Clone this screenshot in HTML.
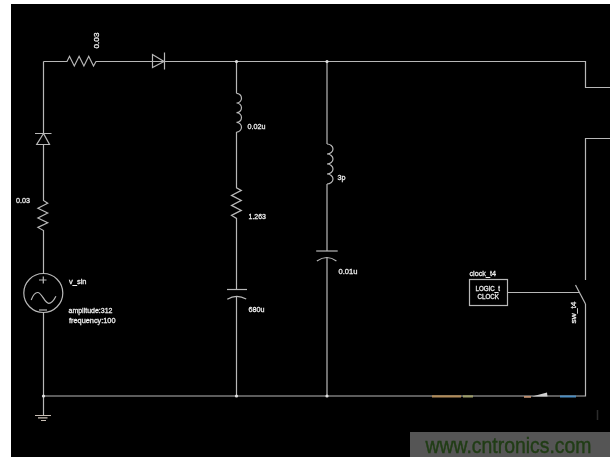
<!DOCTYPE html>
<html><head><meta charset="utf-8">
<style>
html,body{margin:0;padding:0;background:#fff;width:610px;height:462px;overflow:hidden;}
svg{position:absolute;left:0;top:0;will-change:transform;}
text{font-family:"Liberation Sans",sans-serif;fill:#ececec;}
</style></head>
<body>
<svg width="610" height="462" viewBox="0 0 610 462">
<rect x="0" y="0" width="610" height="462" fill="#fff"/>
<rect x="11" y="4" width="599" height="453" fill="#000"/>
<g stroke="#b8b8b8" stroke-width="1.2" fill="none">
<!-- top wire -->
<path d="M43.5 61.5 H67 L69.5 56.3 L74.3 66 L79.1 56.3 L83.9 66 L88.7 56.3 L93.5 66 L96 61.5 H585.5 V87.5 H610"/>
<!-- top diode -->
<path d="M152.5 54.5 V67.5 L164 61.5 Z M164.5 52.5 V69.5"/>
<!-- left vertical -->
<path d="M43.5 61.5 V133.5 M43.5 144.5 V200.5 L47.7 203.2 L37.9 208.2 L47.7 213 L37.9 218 L47.7 222.7 L37.9 227.4 L43.5 230.5 V273.5"/>
<path d="M43.5 312.5 V415.5"/>
<!-- left diode -->
<path d="M35 133.5 H51.5 M43.5 133.5 L36.7 144.5 H49.5 Z"/>
<!-- source -->
<circle cx="43.3" cy="293" r="19.5"/>
<path d="M39 280 H46.5 M43.3 276.5 V283.5"/>
<path d="M39 310 H47"/>
<path d="M31.2 300 C33 295 35 292.5 37.7 292.5 C42 292.5 44.5 303.3 48.8 303.3 C51.5 303.3 54 300 55.9 296.2"/>
<!-- ground -->
<path d="M35 415.5 H51 M38 417.8 H47.5 M41 420.5 H46" stroke="#c8beb4"/>
<!-- bottom wire -->
<path d="M43.5 396 H585.5 V304"/>
<path d="M585.5 280 V138.5 H610"/>
<!-- middle column -->
<path d="M236.5 61.5 V93.3"/>
<path d="M236.5 93.3 a5 4.85 0 0 1 0 9.7 a5 4.85 0 0 1 0 9.7 a5 4.85 0 0 1 0 9.7 a5 4.85 0 0 1 0 9.7"/>
<path d="M236.5 132 V187.8 L241.3 190.4 L231.5 195.4 L241.3 200.4 L231.5 205.4 L241.3 210.4 L231.5 215.4 L236.5 218.4 V289.5 M236.5 296.5 V396"/>
<path d="M227 289.5 H247"/>
<path d="M227.3 299.2 Q236.5 293.5 246.2 299"/>
<!-- right column -->
<path d="M327 61.5 V144"/>
<path d="M327 144 a6 5 0 0 1 0 10 a6 5 0 0 1 0 10 a6 5 0 0 1 0 10 a6 5 0 0 1 0 10"/>
<path d="M327 184 V251 M327 257.5 V396"/>
<path d="M316.2 251 H337.7"/>
<path d="M316.9 261 Q327 254 336.4 261"/>
<!-- switch -->
<path d="M575.5 285 L585.5 304"/>
<path d="M508 292.5 H579"/>
<!-- clock box -->
<rect x="469.5" y="279.5" width="38" height="26"/>
</g>
<g fill="#e0e0e0">
<circle cx="236.5" cy="61.5" r="1.6"/>
<circle cx="327" cy="61.5" r="1.6"/>
<circle cx="236.5" cy="396" r="1.6"/>
<circle cx="327" cy="396" r="1.6"/>
<circle cx="43.5" cy="396" r="1.6"/>
</g>
<!-- colored bits on bottom wire -->
<rect x="432" y="395.3" width="29" height="2.2" fill="#b08a58"/>
<rect x="463" y="395.3" width="10" height="2.2" fill="#9c9c68"/>
<rect x="524" y="396" width="7" height="1.8" fill="#c09070"/>
<path d="M532 396.5 L547 392.6 L547.5 396.5 Z" fill="#d0d0d0"/>
<rect x="560" y="395.5" width="16" height="2" fill="#4a8cc0"/>
<path d="M597.5 410 V420" stroke="#2c2c2c" stroke-width="1.5"/>
<!-- labels -->
<g font-size="8" stroke="#ececec" stroke-width="0.3">
<text transform="translate(99 48.5) rotate(-90)" textLength="16" lengthAdjust="spacingAndGlyphs">0.03</text>
<text x="16" y="202.5" textLength="14" lengthAdjust="spacingAndGlyphs">0.03</text>
<text x="247.5" y="129" textLength="18" lengthAdjust="spacingAndGlyphs">0.02u</text>
<text x="248.5" y="219" textLength="17.5" lengthAdjust="spacingAndGlyphs">1.263</text>
<text x="248.5" y="312.3" textLength="16" lengthAdjust="spacingAndGlyphs">680u</text>
<text x="337.5" y="179.5" textLength="8" lengthAdjust="spacingAndGlyphs">3p</text>
<text x="338.5" y="273.5" textLength="19" lengthAdjust="spacingAndGlyphs">0.01u</text>
<text x="69" y="284" textLength="17.5" lengthAdjust="spacingAndGlyphs">v_sin</text>
<text x="68.5" y="313" textLength="44" lengthAdjust="spacingAndGlyphs">amplitude:312</text>
<text x="69" y="322.5" textLength="46.5" lengthAdjust="spacingAndGlyphs">frequency:100</text>
<text x="469.5" y="276.3" textLength="26.5" lengthAdjust="spacingAndGlyphs">clock_t4</text>
<text x="475.5" y="291.3" font-size="7" textLength="24.5" lengthAdjust="spacingAndGlyphs">LOGIC_t</text>
<text x="477.5" y="298.8" font-size="7" textLength="21.5" lengthAdjust="spacingAndGlyphs">CLOCK</text>
<text transform="translate(575.8 323.5) rotate(-90)" font-size="7.2" textLength="22" lengthAdjust="spacingAndGlyphs">sw_t4</text>
</g>
<!-- watermark -->
<rect x="410" y="432" width="200" height="25" fill="#555555"/>
<text x="425.5" y="452.5" font-size="21.5" textLength="166" lengthAdjust="spacingAndGlyphs" style="fill:#213d16;stroke:#213d16;stroke-width:0.45">www.cntronics.com</text>
</svg>
</body></html>
